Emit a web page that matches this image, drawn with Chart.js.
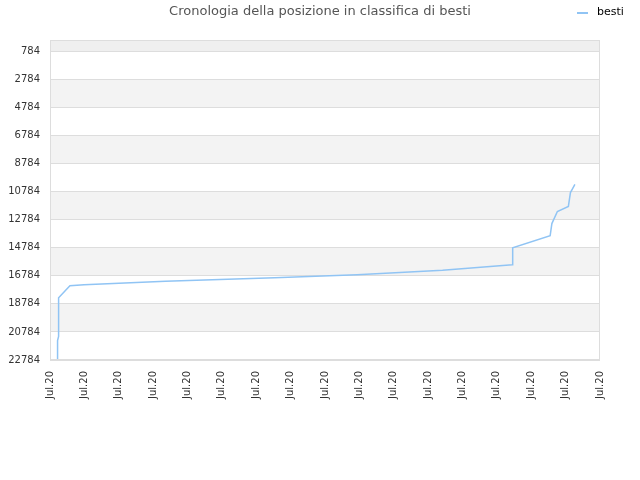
<!DOCTYPE html>
<html>
<head>
<meta charset="utf-8">
<script src="https://cdn.jsdelivr.net/npm/chart.js@4"></script>
<style>
  html, body { margin: 0; padding: 0; background: #fff; }
  #wrap { width: 640px; height: 480px; }
</style>
</head>
<body>
<div id="wrap"><canvas id="rankChart"></canvas></div>
<script>
var chartTitle = 'Cronologia della posizione in classifica di besti';
var seriesName = 'besti';
var xLabels = ['Jul.20','Jul.20','Jul.20','Jul.20','Jul.20','Jul.20','Jul.20','Jul.20','Jul.20',
               'Jul.20','Jul.20','Jul.20','Jul.20','Jul.20','Jul.20','Jul.20','Jul.20'];
var yTicks = [784, 2784, 4784, 6784, 8784, 10784, 12784, 14784, 16784, 18784, 20784, 22784];
var posX = [0.22, 0.22, 0.25, 0.25, 0.58, 0.99, 3.36, 6.53, 8.93, 11.42, 13.45, 13.46,
            14.55, 14.60, 14.76, 15.08, 15.14, 15.27];
var posY = [22784, 21400, 21100, 18350, 17500, 17430, 17180, 16930, 16710, 16400, 16000, 14800,
            13930, 13070, 12210, 11850, 10860, 10280];

var points = posX.map(function(x, i) { return { x: x, y: posY[i] }; });

var decor = {
    id: 'decor',
    beforeDraw: function(chart) {
        var c = chart.ctx, a = chart.chartArea, y = chart.scales.y;
        c.save();
        c.fillStyle = '#efefef';
        c.fillRect(a.left, a.top, a.right - a.left, y.getPixelForValue(yTicks[0]) - a.top);
        c.fillStyle = '#f3f3f3';
        for (var i = 1; i < yTicks.length - 1; i += 2) {
            var t = y.getPixelForValue(yTicks[i]), b = y.getPixelForValue(yTicks[i + 1]);
            c.fillRect(a.left, t, a.right - a.left, b - t);
        }
        c.restore();
    },
    afterDraw: function(chart) {
        var c = chart.ctx, a = chart.chartArea;
        c.save();
        c.strokeStyle = '#dddddd';
        c.lineWidth = 1;
        c.strokeRect(a.left + 0.5, a.top + 0.5, a.right - a.left - 1, a.bottom - a.top - 1);
        c.fillStyle = '#555';
        c.font = '13px "DejaVu Sans"';
        c.textAlign = 'center';
        c.textBaseline = 'middle';
        c.fillText(chartTitle, 320, 12);
        c.strokeStyle = '#90c4f4';
        c.lineWidth = 2;
        c.beginPath(); c.moveTo(577, 13); c.lineTo(588, 13); c.stroke();
        c.fillStyle = '#000';
        c.font = '11px "DejaVu Sans"';
        c.textAlign = 'left';
        c.fillText(seriesName, 597, 12);
        c.restore();
    }
};

new Chart(document.getElementById('rankChart').getContext('2d'), {
    type: 'line',
    data: {
        datasets: [{
            label: seriesName,
            data: points,
            borderColor: '#90c4f4',
            borderWidth: 1.5,
            pointRadius: 0,
            fill: false,
            tension: 0
        }]
    },
    options: {
        responsive: true,
        maintainAspectRatio: false,
        animation: false,
        layout: { padding: { top: 40, right: 40, left: 0, bottom: 0 } },
        plugins: { legend: { display: false }, title: { display: false }, tooltip: { enabled: false } },
        scales: {
            x: {
                type: 'linear', min: 0, max: 16,
                afterBuildTicks: function(s) { s.ticks = xLabels.map(function(l, i) { return { value: i }; }); },
                afterFit: function(s) { s.height = 120; },
                grid: { display: false },
                border: { display: false },
                ticks: {
                    autoSkip: false, minRotation: 90, maxRotation: 90,
                    color: '#333', font: { family: 'DejaVu Sans', size: 10 },
                    callback: function(v) { return xLabels[Math.round(v)]; }
                }
            },
            y: {
                reverse: true, min: -2, max: 22784,
                afterBuildTicks: function(s) { s.ticks = yTicks.map(function(v) { return { value: v }; }); },
                afterFit: function(s) { s.width = 50; },
                grid: { color: '#dddddd', drawTicks: false },
                border: { display: false },
                ticks: {
                    color: '#333', padding: 10, font: { family: 'DejaVu Sans', size: 10 },
                    callback: function(v) { return String(v); }
                }
            }
        }
    },
    plugins: [decor]
});
</script>
</body>
</html>
